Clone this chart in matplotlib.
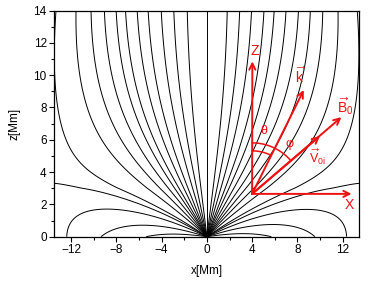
import numpy as np
import matplotlib
matplotlib.use('Agg')
import matplotlib.pyplot as plt

plt.rcParams['font.family'] = ['Liberation Sans', 'DejaVu Sans']
plt.rcParams['mathtext.fontset'] = 'custom'
plt.rcParams['mathtext.rm'] = 'Liberation Sans'
plt.rcParams['mathtext.it'] = 'Liberation Sans:italic'

# footpoints of the field lines
top_x = [-13.35, -11.58, -10.25, -9.07, -8.03, -7.2, -6.17, -5.2, -4.04, -2.93, -1.74,
         0.0, 1.8, 2.9, 3.95, 5.05, 5.95, 7.0, 8.1, 9.15, 10.25, 11.6, 13.3]
top_z = 14.0
edge_x = [-13.5, 13.5]
edge_z = [3.3, 3.3]
land_x = [-12.4, -9.36, -5.37, 5.7, 9.55, 12.36]

# flux-function model: point source at origin, field turning vertical with height,
# return flux through the surface
b_up = 0.00182      # strength of the vertical component
z_up = 3.0          # height where it starts
p_up = 1.147
s_ret = 0.0072      # return flux at the surface
h_ret = 4.0         # decay height of the return flux

# red vectors (data coords)
vec_origin = (4.0, 2.65)
vec_tips = {'Z': (4.02, 10.85), 'X': (12.8, 2.65), 'k': (8.57, 9.08),
            'B': (11.9, 7.4), 'V': (10.0, 6.23)}


def flux(x, z):
    x = np.asarray(x, float)
    z = np.asarray(z, float)
    bz = b_up * np.clip(z - z_up, 0, None) ** p_up
    return (np.arctan2(z, -x) + bz * x
            - s_ret * np.sign(x) * np.abs(x) ** 1.5 * np.exp(-z / h_ret))


levels = list(flux(top_x, np.full(len(top_x), top_z)))
levels += list(flux(edge_x, edge_z))
levels += list(flux(land_x, np.full(len(land_x), 1e-7)))
levels = sorted(levels)

r = np.geomspace(0.004, 40, 900)
th = np.linspace(1e-5, np.pi - 1e-5, 1400)
R, TH = np.meshgrid(r, th)
X = R * np.cos(TH)
Z = R * np.sin(TH)
A = flux(X, Z)

fig = plt.figure(figsize=(3.71, 2.92), dpi=100)
ax = fig.add_axes([0.1464, 0.1894, 0.8226, 0.7746])
ax.contour(X, Z, A, levels=levels, colors='k', linewidths=0.7, linestyles='solid')

ax.set_xlim(-13.5, 13.5)
ax.set_ylim(0, 14)
ax.set_xticks([-12, -8, -4, 0, 4, 8, 12])
ax.set_xticks([-10, -6, -2, 2, 6, 10], minor=True)
ax.set_yticks(np.arange(0, 15, 2))
ax.set_yticks(np.arange(1, 14, 2), minor=True)
ax.tick_params(which='major', length=3.5, width=0.8, labelsize=8.5, pad=2)
ax.tick_params(which='minor', length=2, width=0.8)
for s in ax.spines.values():
    s.set_linewidth(0.9)
ax.set_xlabel('x[Mm]', fontsize=8.5, labelpad=6)
ax.set_ylabel('z[Mm]', fontsize=8.5, labelpad=9)

# red vector diagram
sx = 0.8226 * 371 / 27.0
sz = 0.7746 * 292 / 14.0
red = '#ee1111'
ox, oz = vec_origin
for key in ['Z', 'X', 'k', 'B', 'V']:
    ax.annotate('', xy=vec_tips[key], xytext=vec_origin,
                arrowprops=dict(arrowstyle='->', color=red, lw=1.4,
                                shrinkA=0, shrinkB=0, mutation_scale=11))


def arc(rad_px, ang1, ang2):
    t = np.deg2rad(np.linspace(ang1, ang2, 40))
    ax.plot(ox + rad_px * np.cos(t) / sx, oz + rad_px * np.sin(t) / sz,
            color=red, lw=1.1)


def disp_angle(tip):
    return np.degrees(np.arctan2((tip[1] - oz) * sz, (tip[0] - ox) * sx))


arc(43, disp_angle(vec_tips['k']), 90)
arc(51, disp_angle(vec_tips['B']), 90)

ax.text(4.25, 11.5, 'Z', color=red, fontsize=10, ha='center', va='center')
ax.text(12.6, 1.95, 'X', color=red, fontsize=10, ha='center', va='center')
ax.text(8.25, 9.95, r'$\overrightarrow{\mathrm{k}}$', color=red, fontsize=10,
        ha='center', va='center')
ax.text(12.2, 8.1, r'$\overrightarrow{\mathrm{B}}_{\mathrm{0}}$', color=red, fontsize=10,
        ha='center', va='center')
ax.text(9.8, 4.95, r'$\overrightarrow{\mathrm{V}}_{\mathrm{0i}}$', color=red, fontsize=9,
        ha='center', va='center')
ax.text(5.1, 6.6, r'$\mathrm{\theta}$', color=red, fontsize=9, ha='center', va='center')
ax.text(7.3, 5.7, r'$\mathrm{\varphi}$', color=red, fontsize=9, ha='center', va='center')

fig.savefig('out.png', dpi=100)
